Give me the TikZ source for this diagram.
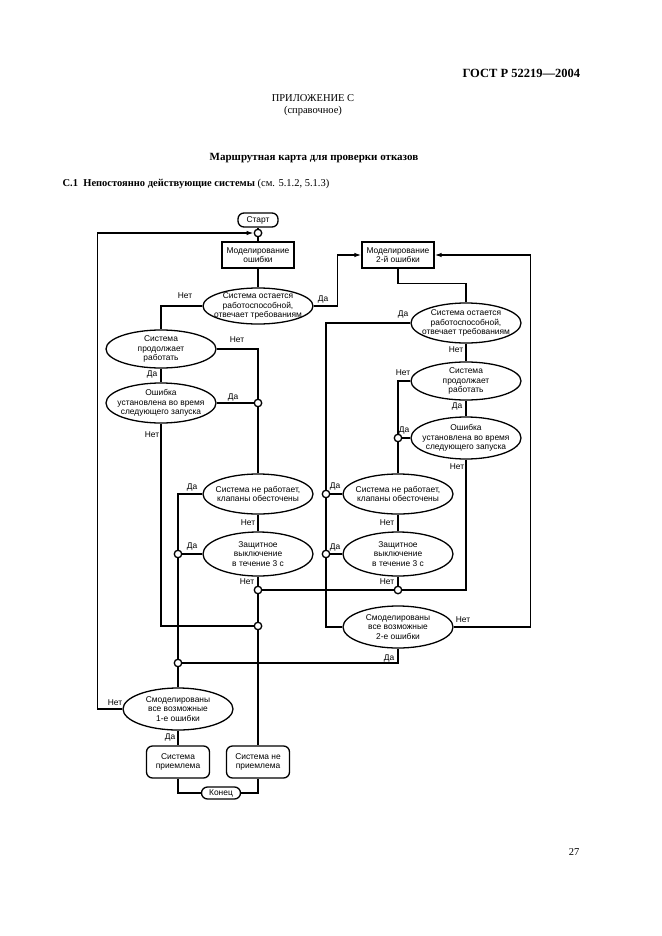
\documentclass[tikz,border=0pt]{standalone}
\usepackage{fontspec}
\setmainfont{Liberation Serif}
\newfontfamily\diagfont{Liberation Sans}
\usepackage{tikz}
\usetikzlibrary{shapes.geometric,arrows.meta}

\begin{document}
\begin{tikzpicture}[x=1pt, y=-1pt, line width=1.3pt, >={Latex[length=7pt,width=4.5pt]},
  txt/.style={font=\diagfont\fontsize{8.4}{9.4}\selectfont},
  ell/.style={txt, ellipse, draw, minimum width=110pt, minimum height=40pt, inner xsep=-10pt, inner ysep=-8pt, align=center},
  box/.style={txt, draw, minimum width=72pt, minimum height=26pt, inner sep=1pt, align=center},
  term/.style={txt, draw, rounded corners=6pt, minimum height=14pt, inner xsep=5pt, inner ysep=1pt},
  res/.style={txt, draw, rounded corners=6pt, minimum width=63pt, minimum height=32pt, align=center},
  junc/.style={circle, draw, fill=white, inner sep=0pt, minimum size=7.5pt},
  lab/.style={txt, inner sep=0pt}]
\useasboundingbox (0,0) rectangle (661,936);

\node (gost) [anchor=east, font=\bfseries\fontsize{12.5}{14}\selectfont] at (584,73) {ГОСТ Р 52219—2004};
\node (app) [font=\fontsize{10.5}{12}\selectfont] at (313,98) {ПРИЛОЖЕНИЕ С};
\node (ref) [font=\fontsize{10.5}{12}\selectfont] at (313,111) {(справочное)};
\node (title) [font=\bfseries\fontsize{11}{13}\selectfont] at (314,158) {Маршрутная карта для проверки отказов};
\node (sect) [anchor=west, inner xsep=0pt, font=\fontsize{10.5}{12}\selectfont] at (62,184) {\textbf{С.1\enspace Непостоянно действующие системы} (см. 5.1.2, 5.1.3)};
\node (page) [font=\fontsize{10.5}{12}\selectfont] at (574,852) {27};

\node (start) [term, minimum width=40pt] at (258,220) {Старт};
\node (j0) [junc] at (258,233) {};
\node (sim1) [box] at (258,255) {Моделирование\\ошибки};
\node (ok1) [ell, minimum height=36pt] at (258,306) {Система остается\\работоспособной,\\отвечает требованиям};
\node (run1) [ell, minimum height=38pt] at (161,349) {Система\\продолжает\\работать};
\node (err1) [ell] at (161,403) {Ошибка\\установлена во время\\следующего запуска};
\node (off1) [ell] at (258,494) {Система не работает,\\клапаны обесточены};
\node (stop1) [ell, minimum height=44pt] at (258,554) {Защитное\\выключение\\в течение 3 с};
\node (all1) [ell, minimum height=42pt] at (178,709) {Смоделированы\\все возможные\\1-е ошибки};
\node (yes) [res] at (178,762) {Система\\приемлема};
\node (no) [res] at (258,762) {Система не\\приемлема};
\node (end) [term, minimum width=39pt, minimum height=12pt] at (221,793) {Конец};

\node (sim2) [box] at (398,255) {Моделирование\\2-й ошибки};
\node (ok2) [ell] at (466,323) {Система остается\\работоспособной,\\отвечает требованиям};
\node (run2) [ell, minimum height=38pt] at (466,381) {Система\\продолжает\\работать};
\node (err2) [ell, minimum height=42pt] at (466,438) {Ошибка\\установлена во время\\следующего запуска};
\node (off2) [ell] at (398,494) {Система не работает,\\клапаны обесточены};
\node (stop2) [ell, minimum height=44pt] at (398,554) {Защитное\\выключение\\в течение 3 с};
\node (all2) [ell, minimum height=42pt] at (398,627) {Смоделированы\\все возможные\\2-е ошибки};

\node (ja) [junc] at (258,403) {};
\node (jb) [junc] at (178,554) {};
\node (jc) [junc] at (258,590) {};
\node (jd) [junc] at (258,626) {};
\node (je) [junc] at (178,663) {};
\node (jf) [junc] at (398,438) {};
\node (jg) [junc] at (326,494) {};
\node (jh) [junc] at (326,554) {};
\node (ji) [junc] at (398,590) {};

\draw (start) -- (j0);
\draw (j0) -- (sim1);
\draw (sim1) -- (ok1);
\draw (ok1.west) -| (run1.north);
\draw [->] (ok1.east) -- ++(24,0) |- (sim2.west);
\draw (run1.east) -| (ja);
\draw (ja) -- (off1);
\draw (run1) -- (err1);
\draw (err1) -- (ja);
\draw (err1) |- (jd);
\draw (off1.west) -| (jb);
\draw (off1) -- (stop1);
\draw (stop1) -- (jb);
\draw (stop1) -- (jc);
\draw (jc) -- (jd);
\draw (jd) -- (no);
\draw (jc) -- (ji);
\draw (err2) |- (ji);
\draw (jb) -- (je);
\draw (je) -- (all1);
\draw (je) -| (all2);
\draw [->] (all1.west) -- ++(-25,0) |- (j0);
\draw (all1) -- (yes);
\draw (yes) |- (end);
\draw (end) -| (no);

\draw (sim2.south) -- ++(0,15) -| (ok2.north);
\draw (ok2.west) -| (jg);
\draw (jg) -- (jh);
\draw (jh) |- (all2.west);
\draw (ok2) -- (run2);
\draw (run2.west) -| (jf);
\draw (run2) -- (err2);
\draw (err2) -- (jf);
\draw (jf) -- (off2);
\draw (off2) -- (jg);
\draw (off2) -- (stop2);
\draw (stop2) -- (jh);
\draw (stop2) -- (ji);
\draw [->] (all2.east) -- ++(77,0) |- (sim2.east);

\node (l1) [lab] at (185,296) {Нет};
\node (l2) [lab] at (323,299) {Да};
\node (l3) [lab] at (237,340) {Нет};
\node (l4) [lab] at (152,374) {Да};
\node (l5) [lab] at (233,397) {Да};
\node (l6) [lab] at (152,435) {Нет};
\node (l7) [lab] at (192,487) {Да};
\node (l8) [lab] at (248,523) {Нет};
\node (l9) [lab] at (192,546) {Да};
\node (l10) [lab] at (247,582) {Нет};
\node (l11) [lab] at (115,703) {Нет};
\node (l12) [lab] at (170,737) {Да};
\node (l13) [lab] at (403,314) {Да};
\node (l14) [lab] at (456,350) {Нет};
\node (l15) [lab] at (403,373) {Нет};
\node (l16) [lab] at (457,406) {Да};
\node (l17) [lab] at (404,430) {Да};
\node (l18) [lab] at (457,467) {Нет};
\node (l19) [lab] at (335,486) {Да};
\node (l20) [lab] at (387,523) {Нет};
\node (l21) [lab] at (335,547) {Да};
\node (l22) [lab] at (387,582) {Нет};
\node (l23) [lab] at (463,620) {Нет};
\node (l24) [lab] at (389,658) {Да};
\end{tikzpicture}
\end{document}
